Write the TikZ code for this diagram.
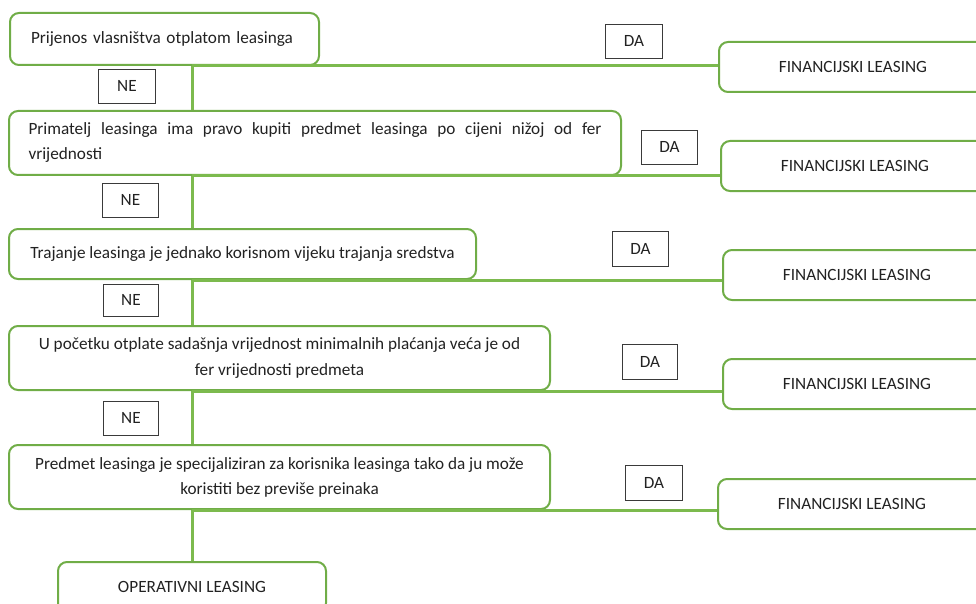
\documentclass[tikz,border=0pt]{standalone}
\usepackage{fontspec}
\setmainfont{Carlito}
\definecolor{bgreen}{HTML}{70AD47}
\definecolor{lgreen}{HTML}{7CBA4E}
\definecolor{txt}{HTML}{222222}
\definecolor{tagc}{HTML}{3A3A3A}
\begin{document}
\begin{tikzpicture}[x=1pt,y=-1pt,
  every node/.style={font=\fontsize{17.2}{25}\selectfont, text=txt},
  cond/.style={draw=bgreen, line width=2pt, rounded corners=9pt, fill=white, anchor=north west, inner xsep=0pt, inner ysep=0pt, align=center},
  result/.style={cond, minimum width=268pt, minimum height=50pt},
  tag/.style={draw=tagc, line width=0.9pt, fill=white, anchor=north west, inner sep=0pt, minimum height=34pt},
  link/.style={draw=lgreen, line width=3pt},
]
\useasboundingbox (0,0) rectangle (976,604);
\clip (0,0) rectangle (976,604);

% condition boxes
\node[cond, minimum width=309pt, minimum height=52pt, text width=267pt, align=left, inner xsep=21pt] (b1) at (9,12) {Prijenos vlasništva otplatom leasinga};
\node[cond, minimum height=64pt, text width=573pt, align=left, inner xsep=19.5pt] (b2) at (8,110) {\makebox[573pt][l]{Primatelj\hfill leasinga\hfill ima\hfill pravo\hfill kupiti\hfill predmet\hfill leasinga\hfill po\hfill cijeni\hfill nižoj\hfill od\hfill fer}\\vrijednosti};
\node[cond, minimum width=467pt, minimum height=50pt] (b3) at (8,228) {Trajanje leasinga je jednako korisnom vijeku trajanja sredstva};
\node[cond, minimum width=541pt, minimum height=64pt] (b4) at (8,325) {U početku otplate sadašnja vrijednost minimalnih plaćanja veća je od\\fer vrijednosti predmeta};
\node[cond, minimum width=541pt, minimum height=64pt] (b5) at (8,444) {Predmet leasinga je specijaliziran za korisnika leasinga tako da ju može\\koristiti bez previše preinaka};
\node[result] (op) at (57,561) {OPERATIVNI LEASING};

% result boxes
\node[result] (fl1) at (718,41) {FINANCIJSKI LEASING};
\node[result] (fl2) at (720,140) {FINANCIJSKI LEASING};
\node[result] (fl3) at (722,249) {FINANCIJSKI LEASING};
\node[result] (fl4) at (722,358) {FINANCIJSKI LEASING};
\node[result] (fl5) at (717,478) {FINANCIJSKI LEASING};

% connectors
\coordinate (sp) at (192,0);
\draw[link] (sp |- b1.south) -- (sp |- b2.north);
\draw[link] (sp |- b2.south) -- (sp |- b3.north);
\draw[link] (sp |- b3.south) -- (sp |- b4.north);
\draw[link] (sp |- b4.south) -- (sp |- b5.north);
\draw[link] (sp |- b5.south) -- (sp |- op.north);

\draw[link] (sp |- b1.south) -- (fl1.west |- b1.south);
\draw[link] (sp |- b2.south) -- (fl2.west |- b2.south);
\draw[link] (sp |- b3.south) -- (fl3.west |- b3.south);
\draw[link] (sp |- b4.south) -- (fl4.west |- b4.south);
\draw[link] (sp |- b5.south) -- (fl5.west |- b5.south);

% NE labels
\node[tag, minimum width=57pt] (ne1) at (98,69) {NE};
\node[tag, minimum width=56pt] (ne2) at (102,183) {NE};
\node[tag, minimum width=55pt, minimum height=32pt] (ne3) at (103,284) {NE};
\node[tag, minimum width=55pt] (ne4) at (103,401) {NE};

% DA labels
\node[tag, minimum width=57pt] (da1) at (605,24) {DA};
\node[tag, minimum width=56pt] (da2) at (641,130) {DA};
\node[tag, minimum width=56pt, minimum height=35pt] (da3) at (612,231) {DA};
\node[tag, minimum width=55pt, minimum height=35pt] (da4) at (622,344) {DA};
\node[tag, minimum width=57pt, minimum height=35pt] (da5) at (625,465) {DA};
\end{tikzpicture}
\end{document}
